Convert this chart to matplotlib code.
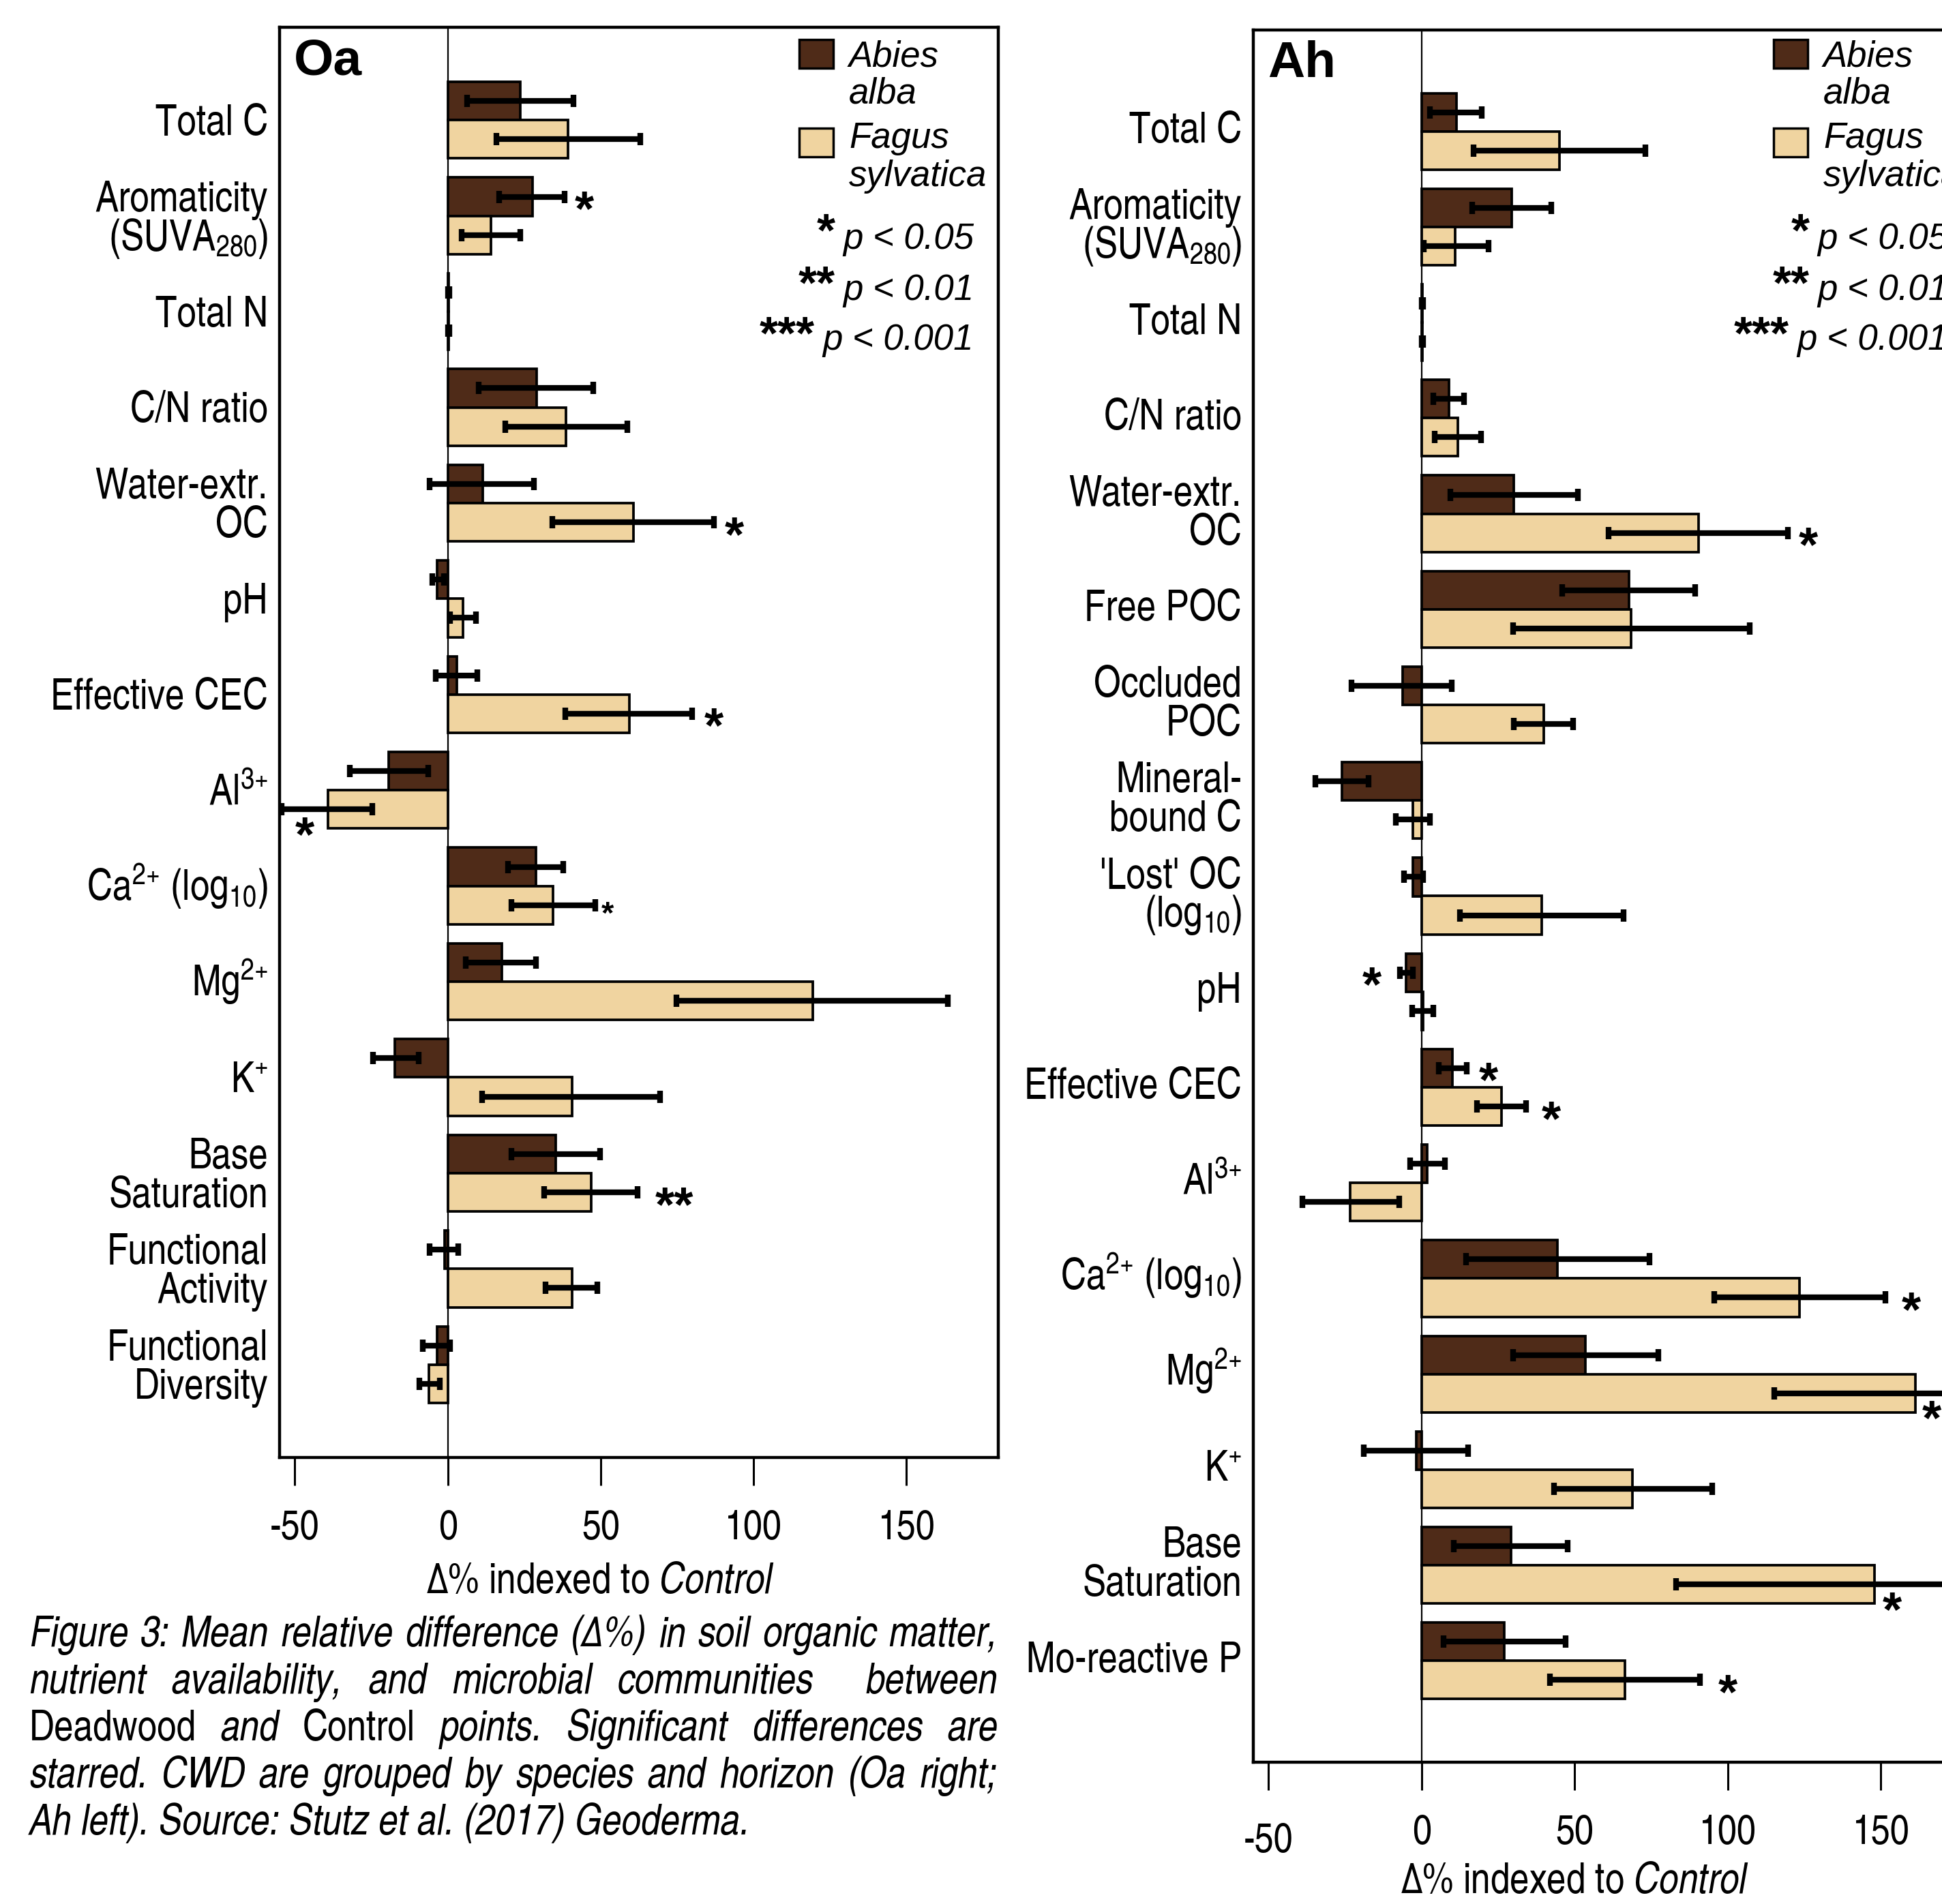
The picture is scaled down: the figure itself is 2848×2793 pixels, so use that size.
import re
import numpy as np
import matplotlib
matplotlib.use("Agg")
import matplotlib.pyplot as plt
from matplotlib import font_manager as fm
from matplotlib.patches import Rectangle
from matplotlib.transforms import blended_transform_factory, offset_copy, ScaledTranslation

# ---- data ----
oa_cats = ["Total C", "Aromaticity\n(SUVA$_{280}$)", "Total N", "C/N ratio", "Water-extr.\nOC", "pH",
           "Effective CEC", "Al$^{3{+}}$", "Ca$^{2{+}}$ (log$_{10}$)", "Mg$^{2{+}}$", "K$^{+}$",
           "Base\nSaturation", "Functional\nActivity", "Functional\nDiversity"]
oa_abies = [23.8, 27.8, 0.3, 29.0, 11.4, -3.4, 2.9, -19.4, 28.8, 17.7, -17.3, 35.3, -1.1, -3.6]
oa_abies_lo = [6.3, 16.8, 0.1, 10.1, -5.9, -5.0, -4.0, -32.0, 19.6, 5.9, -24.4, 20.8, -5.9, -8.2]
oa_abies_hi = [41.2, 38.3, 0.5, 47.5, 28.2, -1.3, 9.7, -6.5, 37.7, 28.8, -9.5, 49.9, 3.4, 0.8]
oa_fagus = [39.3, 14.1, 0.3, 38.7, 60.8, 5.0, 59.3, -39.1, 34.5, 119.3, 40.6, 46.9, 40.6, -6.1]
oa_fagus_lo = [15.8, 4.6, 0.1, 18.9, 34.1, 0.8, 38.5, -54.3, 20.8, 74.7, 11.2, 31.6, 32.0, -9.3]
oa_fagus_hi = [62.9, 23.8, 0.5, 58.7, 87.1, 9.3, 80.0, -24.6, 48.2, 163.5, 69.4, 62.1, 48.8, -2.7]
# significance marks: (row, series, stars, x position, small glyph, sits low)
oa_stars = [(1, "abies", "*", 44.6, False, False), (4, "fagus", "*", 93.8, False, False),
            (6, "fagus", "*", 87.1, False, False), (7, "fagus", "*", -46.7, False, True),
            (8, "fagus", "*", 52.3, True, False), (11, "fagus", "**", 74.0, False, False)]

ah_cats = ["Total C", "Aromaticity\n(SUVA$_{280}$)", "Total N", "C/N ratio", "Water-extr.\nOC", "Free POC",
           "Occluded\nPOC", "Mineral-\nbound C", "'Lost' OC\n(log$_{10}$)", "pH", "Effective CEC", "Al$^{3{+}}$",
           "Ca$^{2{+}}$ (log$_{10}$)", "Mg$^{2{+}}$", "K$^{+}$", "Base\nSaturation", "Mo-reactive P"]
ah_abies = [11.4, 29.4, 0.3, 8.9, 30.2, 67.7, -6.3, -26.0, -2.8, -5.1, 10.1, 1.8, 44.4, 53.5, -1.8, 29.2, 27.0]
ah_abies_lo = [2.8, 16.4, 0.1, 3.9, 9.3, 45.8, -22.9, -34.7, -5.7, -7.1, 5.5, -3.7, 14.6, 29.8, -18.9, 10.5, 7.1]
ah_abies_hi = [19.7, 42.4, 0.5, 13.8, 51.1, 89.3, 9.9, -17.4, 0.4, -2.8, 14.8, 7.7, 74.4, 77.3, 15.2, 47.7, 47.1]
ah_fagus = [45.0, 11.0, 0.3, 11.8, 90.5, 68.4, 40.0, -2.8, 39.3, 0.4, 26.0, -23.3, 123.5, 161.3, 68.8, 148.0, 66.3]
ah_fagus_lo = [17.0, 0.6, 0.1, 4.3, 61.1, 29.8, 30.0, -8.5, 12.4, -3.2, 18.1, -38.9, 95.5, 115.2, 43.2, 83.2, 41.8]
ah_fagus_hi = [73.0, 21.9, 0.5, 19.3, 119.7, 107.1, 49.5, 2.8, 65.9, 3.9, 34.1, -7.3, 151.5, 207.5, 94.9, 213.0, 90.9]
ah_stars = [(4, "fagus", "*", 126.4, False, False), (9, "abies", "*", -16.2, False, False),
            (10, "abies", "*", 21.8, False, False), (10, "fagus", "*", 42.4, False, False),
            (12, "fagus", "*", 160.0, False, False), (13, "fagus", "*", 166.5, False, True),
            (15, "fagus", "*", 153.7, False, True), (16, "fagus", "*", 100.0, False, False)]

xticks = [-50, 0, 50, 100, 150]
xtick_labels = ["-50", "0", "50", "100", "150"]
species = ["Abies\nalba", "Fagus\nsylvatica"]
signif = [("*", "p < 0.05"), ("**", "p < 0.01"), ("***", "p < 0.001")]

caption = [
    [("Figure 3: Mean relative difference (\u0394%) in soil organic matter,", "italic")],
    [("nutrient availability, and microbial communities  between", "italic")],
    [("Deadwood", "normal"), ("and", "italic"), ("Control", "normal"),
     ("points. Significant differences are", "italic")],
    [("starred. CWD are grouped by species and horizon (Oa right;", "italic")],
]
caption_last = "Ah left). Source: Stutz et al. (2017) Geoderma."

# ---- style ----
W, H, DPI = 2848, 2793, 100
ABIES_COL = "#4F2B18"
FAGUS_COL = "#F0D4A0"


def pick_font(names):
    for n in names:
        try:
            fm.findfont(fm.FontProperties(family=n), fallback_to_default=False)
            return n
        except ValueError:
            continue
    return "DejaVu Sans"


FONT = pick_font(["Liberation Sans Narrow", "TeX Gyre Heros Cn", "Arial Narrow", "Liberation Sans"])
WIDE = pick_font(["Liberation Sans", "Arial", "DejaVu Sans"])  # legend, stars, panel tags
NARROW = ("Narrow" in FONT) or ("Cn" in FONT)
K = 1.0 if NARROW else 0.85  # shrink text if no condensed face

plt.rcParams["font.family"] = [FONT, "DejaVu Sans"]
plt.rcParams["mathtext.fontset"] = "custom"
plt.rcParams["mathtext.rm"] = FONT
plt.rcParams["mathtext.it"] = FONT + ":italic"
plt.rcParams["mathtext.bf"] = FONT + ":bold"
plt.rcParams["axes.unicode_minus"] = False

LAB_FS = 45 * K
TICK_FS = 44 * K
LEG_FS = 38
STAR_FS = 52
CAP_FS = 45 * K
WFAM = [WIDE, "DejaVu Sans"]

fig = plt.figure(figsize=(W / DPI, H / DPI), dpi=DPI)
fig.patch.set_facecolor("white")


def fx(px):
    return px / W


def fy(py):
    return 1 - py / H


def star(ax, x, row, s, fs, down=0):
    # put the ink centre of the asterisk on (x, row)
    fs_px = fs * DPI / 72
    tr = offset_copy(ax.transData, fig=fig, x=0, y=-(0.575 * fs_px + down), units="dots")
    ax.text(x, row, s, transform=tr, ha="center", va="baseline", fontsize=fs, family=WFAM,
            fontweight="bold", clip_on=False, zorder=5)


def panel(box, pad, tag, cats, a, a_lo, a_hi, f, f_lo, f_hi, stars, xlab_drop, lab_lift=0,
          low_minus50=False):
    l, t, r, b = box
    ax = fig.add_axes([fx(l), fy(b), (r - l) / W, (b - t) / H])
    n = len(cats)
    y = np.arange(n)
    a, a_lo, a_hi = np.array(a), np.array(a_lo), np.array(a_hi)
    f, f_lo, f_hi = np.array(f), np.array(f_lo), np.array(f_hi)

    ax.axvline(0, color="black", lw=1.6, zorder=1)
    ax.barh(y - 0.2, a, height=0.4, color=ABIES_COL, edgecolor="black", linewidth=2.7, zorder=2)
    ax.barh(y + 0.2, f, height=0.4, color=FAGUS_COL, edgecolor="black", linewidth=2.7, zorder=2)
    for m, lo, hi, yy in [(a, a_lo, a_hi, y - 0.2), (f, f_lo, f_hi, y + 0.2)]:
        ax.errorbar(m, yy, xerr=[m - lo, hi - m], fmt="none", ecolor="black",
                    elinewidth=6, capsize=6.5, capthick=6, zorder=3)

    ax.set_xlim(-55, 180)
    ax.set_ylim(n - 1 + pad, -pad)
    ax.set_yticks([])
    ax.set_xticks(xticks)
    ax.set_xticklabels(xtick_labels)
    ax.tick_params(axis="x", direction="out", length=29.5, width=2.2, pad=25, labelsize=TICK_FS)
    for s in ax.spines.values():
        s.set_linewidth(3.2)
    if low_minus50:
        lbl = ax.get_xticklabels()[0]
        lbl.set_transform(lbl.get_transform() + ScaledTranslation(0, -12 / DPI, fig.dpi_scale_trans))

    # category labels, ink-centred on each pair of bars
    lab_tr = blended_transform_factory(ax.transAxes, ax.transData)
    cap_h, pitch = 43 * K, 57 * K
    for i, lab in enumerate(cats):
        lines = lab.split("\n")
        for k, line in enumerate(lines):
            dy = cap_h / 2 - (len(lines) - 1) * pitch / 2 + k * pitch - lab_lift
            tr = offset_copy(lab_tr, fig=fig, x=-17, y=-dy, units="dots")
            ax.text(0, i, line, transform=tr, ha="right", va="baseline", fontsize=LAB_FS, clip_on=False)

    # stars
    for row, ser, s, x, small, low in stars:
        yy = row - 0.2 if ser == "abies" else row + 0.2
        star(ax, x, yy, s, STAR_FS * (0.65 if small else 1.0), 19 if low else 0)

    # x label centred on 50
    tr = offset_copy(blended_transform_factory(ax.transData, ax.transAxes), fig=fig, y=-xlab_drop, units="dots")
    ax.text(50, 0, "\u0394% indexed to $\\mathit{Control}$", transform=tr, ha="center", va="baseline",
            fontsize=LAB_FS, clip_on=False)

    # panel tag
    fig.text(fx(l + 21), fy(t + 69), tag, fontsize=54, fontweight="bold", family=WFAM,
             ha="left", va="baseline")

    # legend, placed from the top-right corner of the box
    top = 40
    for (y0, y1), col in [((18, 60), ABIES_COL), ((148, 190), FAGUS_COL)]:
        fig.add_artist(Rectangle((fx(r - 292), fy(top + y1)), 50 / W, (y1 - y0) / H, transform=fig.transFigure,
                                 facecolor=col, edgecolor="black", linewidth=2.5))
    bases = [58, 112, 177, 233]
    words = species[0].split("\n") + species[1].split("\n")
    for wd, bs in zip(words, bases):
        fig.text(fx(r - 219), fy(top + bs), wd, fontsize=LEG_FS, style="italic", family=WFAM,
                 ha="left", va="baseline")
    star_right = [-239, -239, -269]
    star_cy = [280, 357, 431]
    p_base = [325, 400, 473]
    sfs = 50
    sfs_px = sfs * DPI / 72
    for (st, pt), sr, cy, pb in zip(signif, star_right, star_cy, p_base):
        fig.text(fx(r + sr), fy(top + cy + 0.575 * sfs_px), st, fontsize=sfs, fontweight="bold", family=WFAM,
                 ha="right", va="baseline")
        fig.text(fx(r - 36), fy(top + pb), pt, fontsize=LEG_FS, style="italic", family=WFAM,
                 ha="right", va="baseline")
    return ax


ax1 = panel((410, 40, 1464, 2138), 0.97, "Oa", oa_cats, oa_abies, oa_abies_lo, oa_abies_hi,
            oa_fagus, oa_fagus_lo, oa_fagus_hi, oa_stars, 199)
ax2 = panel((1838, 44, 2893, 2585), 1.06, "Ah", ah_cats, ah_abies, ah_abies_lo, ah_abies_hi,
            ah_fagus, ah_fagus_lo, ah_fagus_hi, ah_stars, 192, lab_lift=5, low_minus50=True)


# ---- justified caption under the left panel ----
def caption_line(segs, y_base, x0, x1):
    r = fig.canvas.get_renderer()
    words, gaps = [], []
    pending = 0
    for txt, style in segs:
        if words:
            pending = max(pending, 1)
        for tok in re.split(r"( +)", txt):
            if not tok:
                continue
            if tok.startswith(" "):
                pending += len(tok)
                continue
            if words:
                gaps.append(max(pending, 1))
            words.append(fig.text(0, fy(y_base), tok, style=style, fontsize=CAP_FS, ha="left", va="baseline"))
            pending = 0
    ws = [w.get_window_extent(r).width for w in words]
    extra = (x1 - x0 - sum(ws)) / max(sum(gaps), 1)
    x = x0
    for i, w in enumerate(words):
        w.set_x(fx(x))
        x += ws[i] + (gaps[i] * extra if i < len(gaps) else 0)


for k, segs in enumerate(caption):
    caption_line(segs, 2415 + 69 * k, 43, 1463)
fig.text(fx(43), fy(2415 + 69 * 4), caption_last, style="italic", fontsize=CAP_FS, ha="left", va="baseline")

fig.savefig("out.png", dpi=DPI, facecolor="white")
